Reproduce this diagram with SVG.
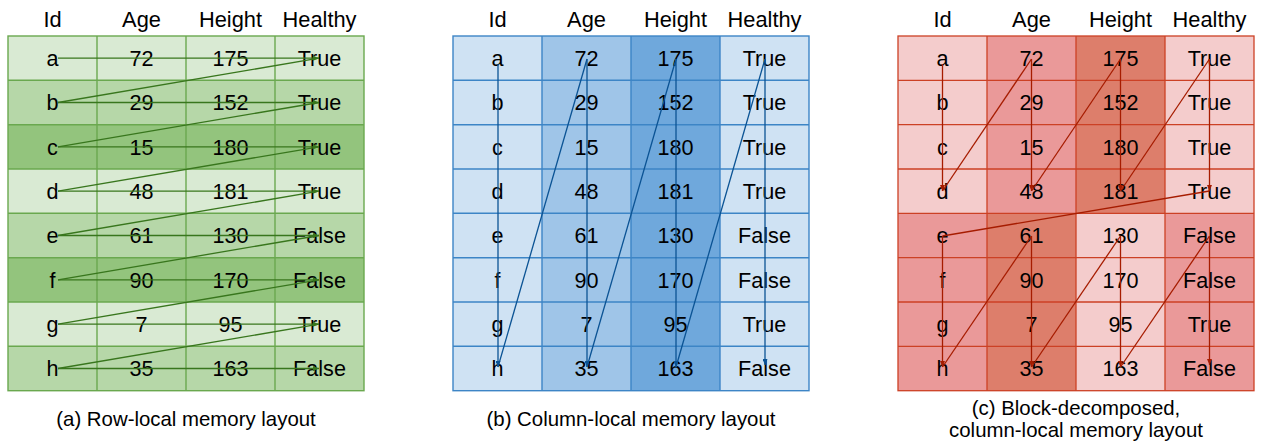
<svg xmlns="http://www.w3.org/2000/svg" width="1262" height="443" viewBox="0 0 1262 443">
  <style>
    text { font-family: "Liberation Sans", Arial, sans-serif; fill: #000; text-anchor: middle; }
    .hd { font-size: 21.8px; }
    .cv { font-size: 21.6px; }
    .cap { font-size: 20.4px; }
    .g1 { fill: #d9ead3; } .g2 { fill: #b6d7a8; } .g3 { fill: #93c47d; }
    .b1 { fill: #cfe2f3; } .b2 { fill: #9fc5e8; } .b3 { fill: #6fa8dc; }
    .r1 { fill: #f4cccc; } .r2 { fill: #ea9999; } .r3 { fill: #dd7e6b; }
    .grid-g line, .grid-g rect.frame { stroke: #6aa84f; stroke-width: 1.4; fill: none; }
    .grid-b line, .grid-b rect.frame { stroke: #3d85c6; stroke-width: 1.4; fill: none; }
    .grid-r line, .grid-r rect.frame { stroke: #cc4125; stroke-width: 1.3; fill: none; }
    .wg { stroke: #38761d; stroke-width: 1.3; fill: none; }
    .wb { stroke: #0b5394; stroke-width: 1.3; fill: none; }
    .wr { stroke: #a61c00; stroke-width: 1.3; fill: none; }
  </style>
  <defs>
    <marker id="ah-g" markerUnits="userSpaceOnUse" markerWidth="6" markerHeight="5" refX="6" refY="2.5" orient="auto">
      <path d="M0,0 L6,2.5 L0,5 z" fill="#38761d"/>
    </marker>
    <marker id="ah-b" markerUnits="userSpaceOnUse" markerWidth="6" markerHeight="5" refX="6" refY="2.5" orient="auto">
      <path d="M0,0 L6,2.5 L0,5 z" fill="#0b5394"/>
    </marker>
    <marker id="ah-r" markerUnits="userSpaceOnUse" markerWidth="6" markerHeight="5" refX="6" refY="2.5" orient="auto">
      <path d="M0,0 L6,2.5 L0,5 z" fill="#a61c00"/>
    </marker>
  </defs>

  <rect width="1262" height="443" fill="#ffffff"/>

  <!-- (a) row-local table: rows shaded in a repeating light/mid/dark cycle -->
  <g id="table-row-local">
    <rect class="g1" x="8" y="36" width="356" height="44.3"/>
    <rect class="g2" x="8" y="80.3" width="356" height="44.4"/>
    <rect class="g3" x="8" y="124.7" width="356" height="44.3"/>
    <rect class="g1" x="8" y="169" width="356" height="44.3"/>
    <rect class="g2" x="8" y="213.3" width="356" height="44.4"/>
    <rect class="g3" x="8" y="257.7" width="356" height="44.3"/>
    <rect class="g1" x="8" y="302" width="356" height="44.3"/>
    <rect class="g2" x="8" y="346.3" width="356" height="44.4"/>
    <g class="grid-g">
      <rect class="frame" x="8" y="36" width="356" height="354.7"/>
      <line x1="97" y1="36" x2="97" y2="390.7"/>
      <line x1="186" y1="36" x2="186" y2="390.7"/>
      <line x1="275" y1="36" x2="275" y2="390.7"/>
      <line x1="8" y1="80.3" x2="364" y2="80.3"/>
      <line x1="8" y1="124.7" x2="364" y2="124.7"/>
      <line x1="8" y1="169" x2="364" y2="169"/>
      <line x1="8" y1="213.3" x2="364" y2="213.3"/>
      <line x1="8" y1="257.7" x2="364" y2="257.7"/>
      <line x1="8" y1="302" x2="364" y2="302"/>
      <line x1="8" y1="346.3" x2="364" y2="346.3"/>
    </g>
    <g class="hd">
      <text x="52.5" y="27">Id</text><text x="141.5" y="27">Age</text><text x="230.5" y="27">Height</text><text x="319.5" y="27">Healthy</text>
    </g>
    <g class="cv">
      <text x="52.5" y="66">a</text><text x="141.5" y="66">72</text><text x="230.5" y="66">175</text><text x="319.5" y="66">True</text>
      <text x="52.5" y="110.3">b</text><text x="141.5" y="110.3">29</text><text x="230.5" y="110.3">152</text><text x="319.5" y="110.3">True</text>
      <text x="52.5" y="154.6">c</text><text x="141.5" y="154.6">15</text><text x="230.5" y="154.6">180</text><text x="319.5" y="154.6">True</text>
      <text x="52.5" y="199">d</text><text x="141.5" y="199">48</text><text x="230.5" y="199">181</text><text x="319.5" y="199">True</text>
      <text x="52.5" y="243.3">e</text><text x="141.5" y="243.3">61</text><text x="230.5" y="243.3">130</text><text x="319.5" y="243.3">False</text>
      <text x="52.5" y="287.6">f</text><text x="141.5" y="287.6">90</text><text x="230.5" y="287.6">170</text><text x="319.5" y="287.6">False</text>
      <text x="52.5" y="332">g</text><text x="141.5" y="332">7</text><text x="230.5" y="332">95</text><text x="319.5" y="332">True</text>
      <text x="52.5" y="376.3">h</text><text x="141.5" y="376.3">35</text><text x="230.5" y="376.3">163</text><text x="319.5" y="376.3">False</text>
    </g>
    <text class="cap" x="186" y="426">(a) Row-local memory layout</text>
  </g>

  <!-- (b) column-local table: columns shaded -->
  <g id="table-column-local">
    <rect class="b1" x="453" y="36" width="89" height="354.7"/>
    <rect class="b2" x="542" y="36" width="89" height="354.7"/>
    <rect class="b3" x="631" y="36" width="89" height="354.7"/>
    <rect class="b1" x="720" y="36" width="89" height="354.7"/>
    <g class="grid-b">
      <rect class="frame" x="453" y="36" width="356" height="354.7"/>
      <line x1="542" y1="36" x2="542" y2="390.7"/>
      <line x1="631" y1="36" x2="631" y2="390.7"/>
      <line x1="720" y1="36" x2="720" y2="390.7"/>
      <line x1="453" y1="80.3" x2="809" y2="80.3"/>
      <line x1="453" y1="124.7" x2="809" y2="124.7"/>
      <line x1="453" y1="169" x2="809" y2="169"/>
      <line x1="453" y1="213.3" x2="809" y2="213.3"/>
      <line x1="453" y1="257.7" x2="809" y2="257.7"/>
      <line x1="453" y1="302" x2="809" y2="302"/>
      <line x1="453" y1="346.3" x2="809" y2="346.3"/>
    </g>
    <g class="hd">
      <text x="497.5" y="27">Id</text><text x="586.5" y="27">Age</text><text x="675.5" y="27">Height</text><text x="764.5" y="27">Healthy</text>
    </g>
    <g class="cv">
      <text x="497.5" y="66">a</text><text x="586.5" y="66">72</text><text x="675.5" y="66">175</text><text x="764.5" y="66">True</text>
      <text x="497.5" y="110.3">b</text><text x="586.5" y="110.3">29</text><text x="675.5" y="110.3">152</text><text x="764.5" y="110.3">True</text>
      <text x="497.5" y="154.6">c</text><text x="586.5" y="154.6">15</text><text x="675.5" y="154.6">180</text><text x="764.5" y="154.6">True</text>
      <text x="497.5" y="199">d</text><text x="586.5" y="199">48</text><text x="675.5" y="199">181</text><text x="764.5" y="199">True</text>
      <text x="497.5" y="243.3">e</text><text x="586.5" y="243.3">61</text><text x="675.5" y="243.3">130</text><text x="764.5" y="243.3">False</text>
      <text x="497.5" y="287.6">f</text><text x="586.5" y="287.6">90</text><text x="675.5" y="287.6">170</text><text x="764.5" y="287.6">False</text>
      <text x="497.5" y="332">g</text><text x="586.5" y="332">7</text><text x="675.5" y="332">95</text><text x="764.5" y="332">True</text>
      <text x="497.5" y="376.3">h</text><text x="586.5" y="376.3">35</text><text x="675.5" y="376.3">163</text><text x="764.5" y="376.3">False</text>
    </g>
    <text class="cap" x="631" y="426">(b) Column-local memory layout</text>
  </g>

  <!-- (c) block-decomposed table: two 4-row blocks, columns shaded per block -->
  <g id="table-block-decomposed">
    <rect class="r1" x="898" y="36" width="89" height="177.3"/>
    <rect class="r2" x="987" y="36" width="89" height="177.3"/>
    <rect class="r3" x="1076" y="36" width="89" height="177.3"/>
    <rect class="r1" x="1165" y="36" width="89" height="177.3"/>
    <rect class="r2" x="898" y="213.3" width="89" height="177.4"/>
    <rect class="r3" x="987" y="213.3" width="89" height="177.4"/>
    <rect class="r1" x="1076" y="213.3" width="89" height="177.4"/>
    <rect class="r2" x="1165" y="213.3" width="89" height="177.4"/>
    <g class="grid-r">
      <rect class="frame" x="898" y="36" width="356" height="354.7"/>
      <line x1="987" y1="36" x2="987" y2="390.7"/>
      <line x1="1076" y1="36" x2="1076" y2="390.7"/>
      <line x1="1165" y1="36" x2="1165" y2="390.7"/>
      <line x1="898" y1="80.3" x2="1254" y2="80.3"/>
      <line x1="898" y1="124.7" x2="1254" y2="124.7"/>
      <line x1="898" y1="169" x2="1254" y2="169"/>
      <line x1="898" y1="213.3" x2="1254" y2="213.3"/>
      <line x1="898" y1="257.7" x2="1254" y2="257.7"/>
      <line x1="898" y1="302" x2="1254" y2="302"/>
      <line x1="898" y1="346.3" x2="1254" y2="346.3"/>
    </g>
    <g class="hd">
      <text x="942.5" y="27">Id</text><text x="1031.5" y="27">Age</text><text x="1120.5" y="27">Height</text><text x="1209.5" y="27">Healthy</text>
    </g>
    <g class="cv">
      <text x="942.5" y="66">a</text><text x="1031.5" y="66">72</text><text x="1120.5" y="66">175</text><text x="1209.5" y="66">True</text>
      <text x="942.5" y="110.3">b</text><text x="1031.5" y="110.3">29</text><text x="1120.5" y="110.3">152</text><text x="1209.5" y="110.3">True</text>
      <text x="942.5" y="154.6">c</text><text x="1031.5" y="154.6">15</text><text x="1120.5" y="154.6">180</text><text x="1209.5" y="154.6">True</text>
      <text x="942.5" y="199">d</text><text x="1031.5" y="199">48</text><text x="1120.5" y="199">181</text><text x="1209.5" y="199">True</text>
      <text x="942.5" y="243.3">e</text><text x="1031.5" y="243.3">61</text><text x="1120.5" y="243.3">130</text><text x="1209.5" y="243.3">False</text>
      <text x="942.5" y="287.6">f</text><text x="1031.5" y="287.6">90</text><text x="1120.5" y="287.6">170</text><text x="1209.5" y="287.6">False</text>
      <text x="942.5" y="332">g</text><text x="1031.5" y="332">7</text><text x="1120.5" y="332">95</text><text x="1209.5" y="332">True</text>
      <text x="942.5" y="376.3">h</text><text x="1031.5" y="376.3">35</text><text x="1120.5" y="376.3">163</text><text x="1209.5" y="376.3">False</text>
    </g>
    <text class="cap" x="1076" y="415">(c) Block-decomposed,</text>
    <text class="cap" x="1076" y="437">column-local memory layout</text>
  </g>

  <!-- traversal order of values in memory -->
  <g id="connectors">
    <!-- (a): left-to-right along each row, then back to the next row -->
    <g class="wg">
      <line x1="58" y1="58.2" x2="319" y2="58.2" marker-end="url(#ah-g)"/>
      <line x1="319" y1="58.2" x2="58" y2="102.5"/>
      <line x1="58" y1="102.5" x2="319" y2="102.5" marker-end="url(#ah-g)"/>
      <line x1="319" y1="102.5" x2="58" y2="146.8"/>
      <line x1="58" y1="146.8" x2="319" y2="146.8" marker-end="url(#ah-g)"/>
      <line x1="319" y1="146.8" x2="58" y2="191.2"/>
      <line x1="58" y1="191.2" x2="319" y2="191.2" marker-end="url(#ah-g)"/>
      <line x1="319" y1="191.2" x2="58" y2="235.5"/>
      <line x1="58" y1="235.5" x2="319" y2="235.5" marker-end="url(#ah-g)"/>
      <line x1="319" y1="235.5" x2="58" y2="279.8"/>
      <line x1="58" y1="279.8" x2="319" y2="279.8" marker-end="url(#ah-g)"/>
      <line x1="319" y1="279.8" x2="58" y2="324.2"/>
      <line x1="58" y1="324.2" x2="319" y2="324.2" marker-end="url(#ah-g)"/>
      <line x1="319" y1="324.2" x2="58" y2="368.5"/>
      <line x1="58" y1="368.5" x2="319" y2="368.5" marker-end="url(#ah-g)"/>
    </g>
    <!-- (b): top-to-bottom along each column -->
    <g class="wb">
      <line x1="498" y1="64" x2="498" y2="367" marker-end="url(#ah-b)"/>
      <line x1="498" y1="367" x2="587" y2="59"/>
      <line x1="587" y1="59" x2="587" y2="367" marker-end="url(#ah-b)"/>
      <line x1="587" y1="367" x2="676" y2="59"/>
      <line x1="676" y1="59" x2="676" y2="367" marker-end="url(#ah-b)"/>
      <line x1="676" y1="367" x2="765" y2="59"/>
      <line x1="765" y1="59" x2="765" y2="365" marker-end="url(#ah-b)"/>
    </g>
    <!-- (c): column by column inside each block, block after block -->
    <g class="wr">
      <line x1="942.5" y1="64" x2="942.5" y2="191" marker-end="url(#ah-r)"/>
      <line x1="942.5" y1="191" x2="1031.5" y2="59"/>
      <line x1="1031.5" y1="59" x2="1031.5" y2="191" marker-end="url(#ah-r)"/>
      <line x1="1031.5" y1="191" x2="1120.5" y2="59"/>
      <line x1="1120.5" y1="59" x2="1120.5" y2="191" marker-end="url(#ah-r)"/>
      <line x1="1120.5" y1="191" x2="1209.5" y2="59"/>
      <line x1="1209.5" y1="59" x2="1209.5" y2="191" marker-end="url(#ah-r)"/>
      <line x1="1209.5" y1="191" x2="942.5" y2="236"/>
      <line x1="942.5" y1="236" x2="942.5" y2="367" marker-end="url(#ah-r)"/>
      <line x1="942.5" y1="367" x2="1031.5" y2="236"/>
      <line x1="1031.5" y1="236" x2="1031.5" y2="367" marker-end="url(#ah-r)"/>
      <line x1="1031.5" y1="367" x2="1120.5" y2="236"/>
      <line x1="1120.5" y1="236" x2="1120.5" y2="367" marker-end="url(#ah-r)"/>
      <line x1="1120.5" y1="367" x2="1209.5" y2="236"/>
      <line x1="1209.5" y1="236" x2="1209.5" y2="365" marker-end="url(#ah-r)"/>
    </g>
  </g>
</svg>
